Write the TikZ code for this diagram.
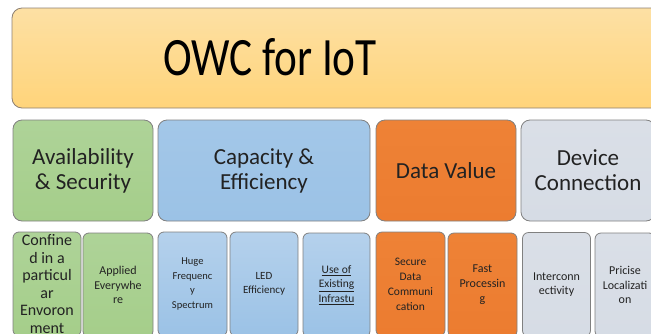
\documentclass[tikz,border=0pt]{standalone}
\usepackage{fontspec}
\setmainfont{Carlito}
\newfontfamily\titlefont[FakeStretch=0.8]{Carlito}
\definecolor{titletop}{HTML}{FDE0A4}
\definecolor{titlebot}{HTML}{FFD47A}
\definecolor{greenA}{HTML}{AED398}
\definecolor{greenB}{HTML}{A5CE8A}
\definecolor{blueA}{HTML}{A3C7E8}
\definecolor{blueB}{HTML}{9BC2E6}
\definecolor{blueC}{HTML}{B5D1EC}
\definecolor{orangeA}{HTML}{EE8236}
\definecolor{orangeB}{HTML}{EC7C30}
\definecolor{greyA}{HTML}{D6DCE5}
\definecolor{greyB}{HTML}{DADFE7}
\definecolor{edge}{HTML}{808080}
\definecolor{txt}{HTML}{222222}
\tikzset{
  box/.style={draw=edge, line width=0.8pt, inner sep=0pt, text=txt, align=center},
  bigbox/.style={box, rounded corners=9pt, minimum height=101pt, font=\fontsize{23}{25}\selectfont},
  smallbox/.style={box, rounded corners=6pt, minimum height=104pt, minimum width=68pt},
  greenbox/.style={top color=greenA, bottom color=greenB},
  bluebox/.style={top color=blueA, bottom color=blueB},
  blueboxs/.style={top color=blueC, bottom color=blueB},
  orangebox/.style={top color=orangeA, bottom color=orangeB},
  greybox/.style={top color=greyB, bottom color=greyA},
}
\begin{document}
\begin{tikzpicture}[x=1pt,y=-1pt]
\useasboundingbox (0,0) rectangle (651,333);
\clip (0,0) rectangle (651,333);
% title
\node[box, draw=edge!80!brown, rounded corners=10pt, minimum width=688pt, minimum height=100pt,
      top color=titletop, bottom color=titlebot] (top) at (356,58) {};
\node[text=black, font=\titlefont\fontsize{54}{60}\selectfont, inner sep=0pt] (title) at (270,57.5) {OWC for IoT};
% row 2
\node[bigbox, greenbox, minimum width=140pt] (avail) at (83,170.5) {Availability\\ \& Security};
\node[bigbox, bluebox, minimum width=212pt] (cap) at (264,170.5) {Capacity \&\\ Efficiency};
\node[bigbox, orangebox, minimum width=140pt] (data) at (446,170.5) {Data Value};
\node[bigbox, greybox, minimum width=134pt] (dev) at (588,170.5) {Device\\ Connection};
% row 3
\node[smallbox, greenbox, font=\fontsize{16}{17.5}\selectfont] (conf) at (47,284) {Confine\\ d in a\\ particul\\ ar\\ Envoron\\ ment};
\node[smallbox, greenbox, minimum width=70pt, font=\fontsize{12}{14.5}\selectfont] (appl) at (118,285) {Applied\\ Everywhe\\ re};
\node[smallbox, blueboxs, minimum width=69pt, font=\fontsize{10.5}{14.7}\selectfont] (huge) at (192.5,284) {Huge\\ Frequenc\\ y\\ Spectrum};
\node[smallbox, blueboxs, font=\fontsize{11}{14}\selectfont] (led) at (264,284) {LED\\ Efficiency};
\node[smallbox, blueboxs, minimum width=67pt, font=\fontsize{11.5}{14.5}\selectfont] (use) at (336.5,285) {\underline{Use of}\\ \underline{Existing}\\ \underline{Infrastu}};
\node[smallbox, orangebox, minimum width=69pt, font=\fontsize{11.5}{15}\selectfont] (sec) at (410.5,284) {Secure\\ Data\\ Communi\\ cation};
\node[smallbox, orangebox, minimum width=69pt, font=\fontsize{12}{15}\selectfont] (fast) at (482.5,285) {Fast\\ Processin\\ g};
\node[smallbox, greybox, minimum width=68pt, font=\fontsize{12}{13.5}\selectfont] (inter) at (556.5,284.5) {Interconn\\ ectivity};
\node[smallbox, greybox, minimum width=60pt, font=\fontsize{12}{14.5}\selectfont] (loc) at (625,285) {Pricise\\ Localizati\\ on};
\end{tikzpicture}
\end{document}
